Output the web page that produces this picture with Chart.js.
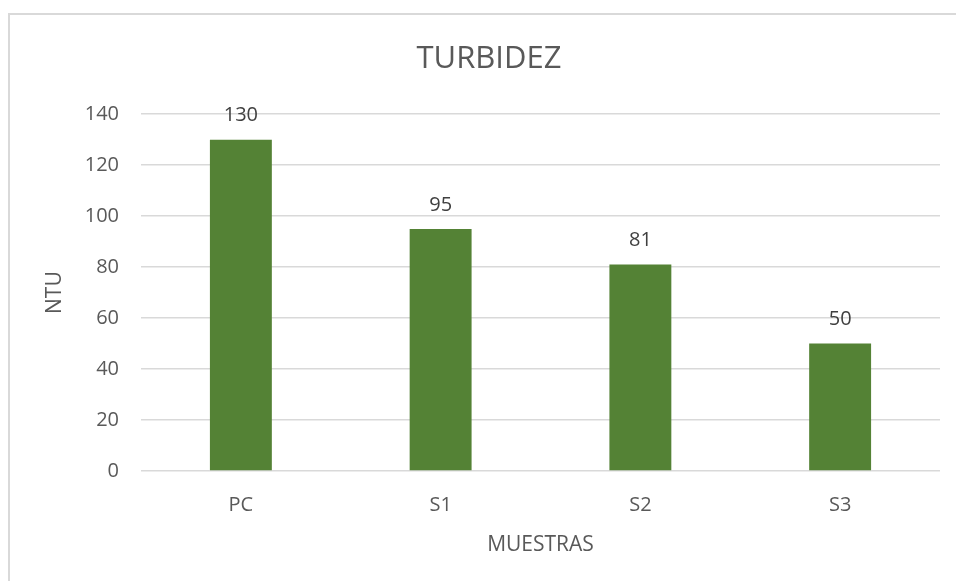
<!DOCTYPE html>
<html>
<head>
<meta charset="utf-8">
<title>TURBIDEZ</title>
<script src="https://cdn.jsdelivr.net/npm/chart.js@4"></script>
<style>
  html, body { margin: 0; padding: 0; background: #fff; }
  #wrap { position: relative; width: 956px; height: 581px; }
  #frame {
    position: absolute; left: 8px; top: 13px; right: 0; bottom: 0;
    border-left: 2px solid #d9d9d9; border-top: 2px solid #d9d9d9;
    pointer-events: none;
  }
</style>
</head>
<body>
<div id="wrap">
  <canvas id="chart" width="956" height="581"></canvas>
  <div id="frame"></div>
</div>
<script>
(() => {
  'use strict';

  // data
  const CATEGORIES = ['PC', 'S1', 'S2', 'S3'];
  const NTU_VALUES = [130, 95, 81, 50];
  const Y_TICKS = [0, 20, 40, 60, 80, 100, 120, 140];

  const FONT = '"Open Sans", "Noto Sans", sans-serif';
  const TEXT = '#595959';

  // draw value above each bar
  const valueLabels = {
    id: 'valueLabels',
    afterDatasetsDraw(chart) {
      const { ctx } = chart;
      const meta = chart.getDatasetMeta(0);
      ctx.save();
      ctx.font = '20px ' + FONT;
      ctx.fillStyle = '#404040';
      ctx.textAlign = 'center';
      ctx.textBaseline = 'middle';
      meta.data.forEach((bar, i) => {
        ctx.fillText(String(NTU_VALUES[i]), bar.x, bar.y - 24);
      });
      ctx.restore();
    },
  };

  new Chart(document.getElementById('chart'), {
    type: 'bar',
    data: {
      labels: CATEGORIES,
      datasets: [{
        label: 'NTU',
        data: NTU_VALUES,
        backgroundColor: '#548235',
        borderWidth: 0,
        categoryPercentage: 1,
        barPercentage: 0.31,
      }],
    },
    options: {
      responsive: false,
      animation: false,
      layout: { padding: { left: 38, right: 16, top: 0, bottom: 0 } },
      scales: {
        x: {
          grid: { display: false, drawTicks: false },
          border: { display: false },
          ticks: { color: TEXT, font: { family: FONT, size: 20 }, padding: 22 },
          title: {
            display: true,
            text: 'MUESTRAS',
            color: TEXT,
            font: { family: FONT, size: 21 },
            padding: { top: 4, bottom: 23 },
          },
          afterFit: (s) => { s.height = 110; },
        },
        y: {
          min: 0,
          max: 140,
          afterBuildTicks: (s) => { s.ticks = Y_TICKS.map((v) => ({ value: v })); },
          grid: { color: '#d9d9d9', lineWidth: 1.5, drawTicks: false },
          border: { display: false },
          ticks: { color: TEXT, font: { family: FONT, size: 20 }, padding: 22 },
          title: {
            display: true,
            text: 'NTU',
            color: TEXT,
            font: { family: FONT, size: 21 },
            padding: { top: 4, bottom: 0 },
          },
          afterFit: (s) => { s.width = 103; },
        },
      },
      plugins: {
        legend: { display: false },
        tooltip: { enabled: false },
        title: {
          display: true,
          text: 'TURBIDEZ',
          color: TEXT,
          font: { family: FONT, size: 31, weight: 'normal' },
          padding: { top: 41, bottom: 36 },
        },
      },
    },
    plugins: [valueLabels],
  });
})();
</script>
</body>
</html>
